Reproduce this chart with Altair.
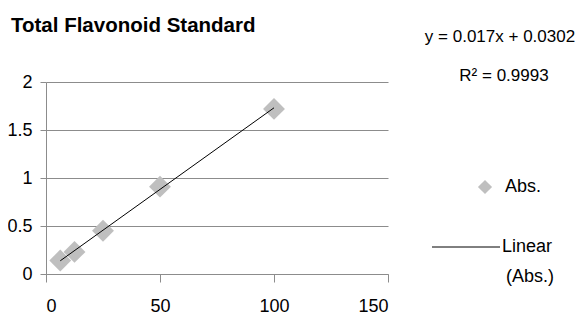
import altair as alt
import pandas as pd

conc = [6.25, 12.5, 25, 50, 100]
absorb = [0.14, 0.23, 0.45, 0.91, 1.72]
x_ticks = [0, 50, 100, 150]
y_ticks = [0, 0.5, 1, 1.5, 2]
title_text = "Total Flavonoid Standard"
eq_lines = ["y = 0.017x + 0.0302", "R\u00b2 = 0.9993"]
series_name = "Abs."
trend_lines = ["Linear", "(Abs.)"]

FONT = "Liberation Sans"
GRID = "#8c8c8c"
PT = "#bfbfbf"
FS = 18

df = pd.DataFrame({"x": conc, "y": absorb})

xs = alt.Scale(domain=[0, 150], nice=False)
ys = alt.Scale(domain=[0, 2], nice=False)

base = alt.Chart(df)

points = base.mark_point(shape="diamond", filled=True, size=480, color=PT, opacity=1).encode(
    x=alt.X("x:Q", scale=xs, title=None,
            axis=alt.Axis(values=x_ticks, grid=False, tickSize=8, tickColor=GRID,
                          domainColor=GRID, labelPadding=15, labelFontSize=FS,
                          labelColor="black", labelFont=FONT, format="~r")),
    y=alt.Y("y:Q", scale=ys, title=None,
            axis=alt.Axis(values=y_ticks, grid=True, gridColor=GRID, tickSize=6,
                          tickColor=GRID, domainColor=GRID, labelPadding=8,
                          labelFontSize=FS, labelColor="black", labelFont=FONT,
                          format="~r")),
)

trend = base.transform_regression("x", "y", method="linear").mark_line(
    color="black", strokeWidth=1
).encode(x=alt.X("x:Q", scale=xs), y=alt.Y("y:Q", scale=ys))


def label(text, x, y, align="left", size=FS, weight="normal", baseline="middle"):
    return alt.Chart(pd.DataFrame({"t": [text]})).mark_text(
        font=FONT, fontSize=size, fontWeight=weight, color="black",
        align=align, baseline=baseline
    ).encode(text="t:N", x=alt.value(x), y=alt.value(y))


title = label(title_text, -35, -50, size=20.5, weight="bold", baseline="alphabetic")
eq1 = label(eq_lines[0], 454, -45, align="center", size=17)
eq2 = label(eq_lines[1], 458, -6, align="center", size=17)

leg_pt = alt.Chart(pd.DataFrame({"t": [series_name]})).mark_point(
    shape="diamond", filled=True, size=200, color=PT, opacity=1
).encode(x=alt.value(439), y=alt.value(105))
leg_pt_txt = label(series_name, 459, 105)
leg_rule = alt.Chart(pd.DataFrame({"t": [trend_lines[0]]})).mark_rule(
    color="black", strokeWidth=1
).encode(x=alt.value(386), x2=alt.value(454), y=alt.value(165))
leg_l1 = label(trend_lines[0], 456, 165)
leg_l2 = label(trend_lines[1], 460, 195)

chart = alt.layer(points, trend, title, eq1, eq2, leg_pt, leg_pt_txt, leg_rule, leg_l1, leg_l2).properties(
    width=342, height=192,
    autosize=alt.AutoSizeParams(type="none"),
    padding={"left": 38, "top": 74, "right": 190, "bottom": 41},
).configure_view(stroke=None).configure_axis(domainWidth=1, tickWidth=1, gridWidth=1)

chart.save("out.html", embed_options={"renderer": "svg", "actions": False})
